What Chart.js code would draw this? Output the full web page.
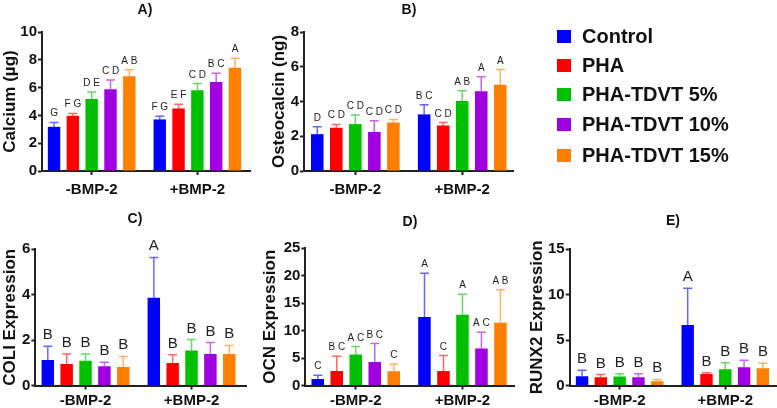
<!DOCTYPE html>
<html>
<head>
<meta charset="utf-8">
<script src="https://cdn.jsdelivr.net/npm/chart.js@4.4.1/dist/chart.umd.min.js"></script>
<style>
  html, body { margin:0; padding:0; background:#fff; }
  #wrap { position:relative; width:777px; height:408px; overflow:hidden; font-family:"Liberation Sans", Arial, sans-serif; }
  canvas { position:absolute; left:0; top:0; }
  .ptitle { position:absolute; font-weight:bold; font-size:14px; color:#111; transform:translate(-50%,-50%); white-space:nowrap; }
  .leg { position:absolute; left:557px; height:20px; display:flex; align-items:center; font-weight:bold; font-size:20px; color:#111; white-space:nowrap; }
  .leg span.sw { display:inline-block; width:14px; height:13px; margin-right:11px; }
</style>
</head>
<body>
<div id="wrap">
  <canvas id="cA" width="777" height="408"></canvas>
  <canvas id="cB" width="777" height="408"></canvas>
  <canvas id="cC" width="777" height="408"></canvas>
  <canvas id="cD" width="777" height="408"></canvas>
  <canvas id="cE" width="777" height="408"></canvas>
  <div class="ptitle" style="left:145px;top:9px;">A)</div>
  <div class="ptitle" style="left:409px;top:9px;">B)</div>
  <div class="ptitle" style="left:135px;top:218px;">C)</div>
  <div class="ptitle" style="left:410px;top:221px;">D)</div>
  <div class="ptitle" style="left:673px;top:220px;">E)</div>
  <div id="legend"></div>
</div>
<script>
// ---------- data ----------
const groups = ['-BMP-2', '+BMP-2'];
const seriesNames = ['Control', 'PHA', 'PHA-TDVT 5%', 'PHA-TDVT 10%', 'PHA-TDVT 15%'];
const seriesColors = ['#0000ff', '#ff0000', '#00c000', '#a000e0', '#ff8000'];

// A) Calcium (µg)
const calciumMinus = [3.18, 3.97, 5.18, 5.88, 6.82];
const calciumMinusErr = [0.31, 0.17, 0.51, 0.67, 0.46];
const calciumMinusLetters = ['G', 'F G', 'D E', 'C D', 'A B'];
const calciumPlus = [3.71, 4.50, 5.81, 6.41, 7.42];
const calciumPlusErr = [0.22, 0.30, 0.48, 0.63, 0.70];
const calciumPlusLetters = ['F G', 'E F', 'C D', 'B C', 'A'];

// B) Osteocalcin (ng)
const ocMinus = [2.12, 2.49, 2.70, 2.25, 2.79];
const ocMinusErr = [0.42, 0.19, 0.52, 0.64, 0.18];
const ocMinusLetters = ['D', 'C D', 'C D', 'C D', 'C D'];
const ocPlus = [3.26, 2.62, 4.03, 4.59, 4.97];
const ocPlusErr = [0.56, 0.17, 0.59, 0.84, 0.87];
const ocPlusLetters = ['B C', 'C D', 'A B', 'A', 'A'];

// C) COLI Expression
const coliMinus = [1.12, 0.94, 1.09, 0.85, 0.81];
const coliMinusErr = [0.60, 0.44, 0.29, 0.17, 0.47];
const coliMinusLetters = ['B', 'B', 'B', 'B', 'B'];
const coliPlus = [3.86, 0.99, 1.54, 1.39, 1.38];
const coliPlusErr = [1.77, 0.36, 0.48, 0.50, 0.38];
const coliPlusLetters = ['A', 'B', 'B', 'B', 'B'];

// D) OCN Expression
const ocnMinus = [1.19, 2.65, 5.62, 4.29, 2.59];
const ocnMinusErr = [0.67, 2.68, 1.46, 3.34, 1.28];
const ocnMinusLetters = ['C', 'B C', 'A C', 'B C', 'C'];
const ocnPlus = [12.44, 2.65, 12.86, 6.72, 11.40];
const ocnPlusErr = [7.96, 2.79, 3.74, 2.98, 6.00];
const ocnPlusLetters = ['A', 'C', 'A', 'A C', 'A B'];

// E) RUNX2 Expression
const runxMinus = [1.02, 0.91, 1.00, 0.91, 0.47];
const runxMinusErr = [0.66, 0.29, 0.28, 0.37, 0.19];
const runxMinusLetters = ['B', 'B', 'B', 'B', 'B'];
const runxPlus = [6.64, 1.27, 1.78, 2.00, 1.89];
const runxPlusErr = [4.06, 0.14, 0.73, 0.77, 0.55];
const runxPlusLetters = ['A', 'B', 'B', 'B', 'B'];

// ---------- rendering ----------
const FONT = '"Liberation Sans", Arial, sans-serif';
const AXIS = '#222';

function hexA(hex, a) {
  const n = parseInt(hex.slice(1), 16);
  return `rgba(${(n >> 16) & 255},${(n >> 8) & 255},${n & 255},${a})`;
}

const errLabelPlugin = {
  id: 'errLabels',
  afterDatasetsDraw(chart) {
    const o = chart.options.plugins.errLabels;
    const ctx = chart.ctx;
    const ys = chart.scales.y;
    chart.data.datasets.forEach((ds, di) => {
      const meta = chart.getDatasetMeta(di);
      meta.data.forEach((bar, i) => {
        const v = ds.data[i].y;
        const yTop = ys.getPixelForValue(v + ds.errors[i]);
        ctx.save();
        ctx.strokeStyle = hexA(ds.baseColor, 0.6);
        ctx.lineWidth = 1.5;
        ctx.beginPath();
        ctx.moveTo(bar.x, bar.y);
        ctx.lineTo(bar.x, yTop);
        ctx.moveTo(bar.x - 4.5, yTop);
        ctx.lineTo(bar.x + 4.5, yTop);
        ctx.stroke();
        ctx.fillStyle = '#222';
        ctx.font = `${o.size}px ${FONT}`;
        ctx.textAlign = 'center';
        ctx.textBaseline = 'alphabetic';
        ctx.fillText(ds.letters[i], bar.x, yTop - o.gap);
        ctx.restore();
      });
    });
  }
};

function makePanel(id, cfg) {
  const datasets = seriesNames.map((name, s) => ({
    label: name,
    data: [{ x: 0, y: cfg.minus[s] }, { x: 1, y: cfg.plus[s] }],
    errors: [cfg.minusErr[s], cfg.plusErr[s]],
    letters: [cfg.minusLetters[s], cfg.plusLetters[s]],
    baseColor: seriesColors[s],
    backgroundColor: seriesColors[s],
    borderWidth: 0,
    categoryPercentage: 0.89,
    barPercentage: 0.66
  }));
  new Chart(document.getElementById(id), {
    type: 'bar',
    data: { datasets },
    plugins: [errLabelPlugin],
    options: {
      responsive: false,
      animation: false,
      devicePixelRatio: 1,
      layout: { padding: cfg.padding },
      plugins: {
        legend: { display: false },
        tooltip: { enabled: false },
        errLabels: { size: cfg.letterSize, gap: cfg.letterGap }
      },
      scales: {
        x: {
          type: 'linear',
          offset: false,
          min: cfg.xmin,
          max: cfg.xmax,
          afterBuildTicks: sc => { sc.ticks = [{ value: 0 }, { value: 1 }]; },
          afterFit: sc => { sc.height = cfg.xh; },
          ticks: {
            callback: v => groups[v],
            font: { family: FONT, size: 15, weight: 'bold' },
            color: '#111',
            padding: cfg.xpad,
            maxRotation: 0,
            autoSkip: false
          },
          grid: { display: true, offset: false, drawOnChartArea: false, drawTicks: true, tickLength: 4, tickWidth: 2, tickColor: AXIS },
          border: { display: true, color: AXIS, width: 2 }
        },
        y: {
          min: 0,
          max: cfg.ymax,
          afterFit: sc => { sc.width = cfg.yw; },
          ticks: {
            stepSize: cfg.step,
            font: { family: FONT, size: 15, weight: 'bold' },
            color: '#111',
            padding: 1
          },
          grid: { display: true, drawOnChartArea: false, drawTicks: true, tickLength: 4, tickWidth: 2, tickColor: AXIS },
          border: { display: true, color: AXIS, width: 2 },
          title: {
            display: true,
            text: cfg.title,
            font: { family: FONT, size: 17, weight: 'bold' },
            color: '#111',
            padding: 0
          }
        }
      }
    }
  });
}

makePanel('cA', {
  minus: calciumMinus, minusErr: calciumMinusErr, minusLetters: calciumMinusLetters,
  plus: calciumPlus, plusErr: calciumPlusErr, plusLetters: calciumPlusLetters,
  title: 'Calcium (µg)', ymax: 10, step: 2,
  padding: { left: 0, right: 527, top: 32, bottom: 209 }, yw: 42, xh: 28, xpad: 6,
  xmin: -0.47, xmax: 1.498, letterSize: 10, letterGap: 6
});
makePanel('cB', {
  minus: ocMinus, minusErr: ocMinusErr, minusLetters: ocMinusLetters,
  plus: ocPlus, plusErr: ocPlusErr, plusLetters: ocPlusLetters,
  title: 'Osteocalcin (ng)', ymax: 8, step: 2,
  padding: { left: 269, right: 264, top: 32, bottom: 209 }, yw: 35, xh: 28, xpad: 6,
  xmin: -0.48, xmax: 1.475, letterSize: 10, letterGap: 6
});
makePanel('cC', {
  minus: coliMinus, minusErr: coliMinusErr, minusLetters: coliMinusLetters,
  plus: coliPlus, plusErr: coliPlusErr, plusLetters: coliPlusLetters,
  title: 'COLI Expression', ymax: 6, step: 2,
  padding: { left: 0, right: 531, top: 249, bottom: 0 }, yw: 35.4, xh: 22.5, xpad: 2,
  xmin: -0.473, xmax: 1.514, letterSize: 15, letterGap: 7
});
makePanel('cD', {
  minus: ocnMinus, minusErr: ocnMinusErr, minusLetters: ocnMinusLetters,
  plus: ocnPlus, plusErr: ocnPlusErr, plusLetters: ocnPlusLetters,
  title: 'OCN Expression', ymax: 25, step: 5,
  padding: { left: 260, right: 263, top: 248, bottom: 0 }, yw: 45.4, xh: 22.5, xpad: 2,
  xmin: -0.472, xmax: 1.483, letterSize: 10, letterGap: 6
});
makePanel('cE', {
  minus: runxMinus, minusErr: runxMinusErr, minusLetters: runxMinusLetters,
  plus: runxPlus, plusErr: runxPlusErr, plusLetters: runxPlusLetters,
  title: 'RUNX2 Expression', ymax: 15, step: 5,
  padding: { left: 527, right: 1, top: 249, bottom: 0 }, yw: 42.7, xh: 22.5, xpad: 2,
  xmin: -0.473, xmax: 1.48, letterSize: 15, letterGap: 7
});

// legend
const legendCenters = [36.5, 65, 94.5, 124.5, 155];
const legend = document.getElementById('legend');
seriesNames.forEach((name, s) => {
  const d = document.createElement('div');
  d.className = 'leg';
  d.style.top = (legendCenters[s] - 10) + 'px';
  d.innerHTML = `<span class="sw" style="background:${seriesColors[s]}"></span>${name}`;
  legend.appendChild(d);
});
</script>
</body>
</html>
